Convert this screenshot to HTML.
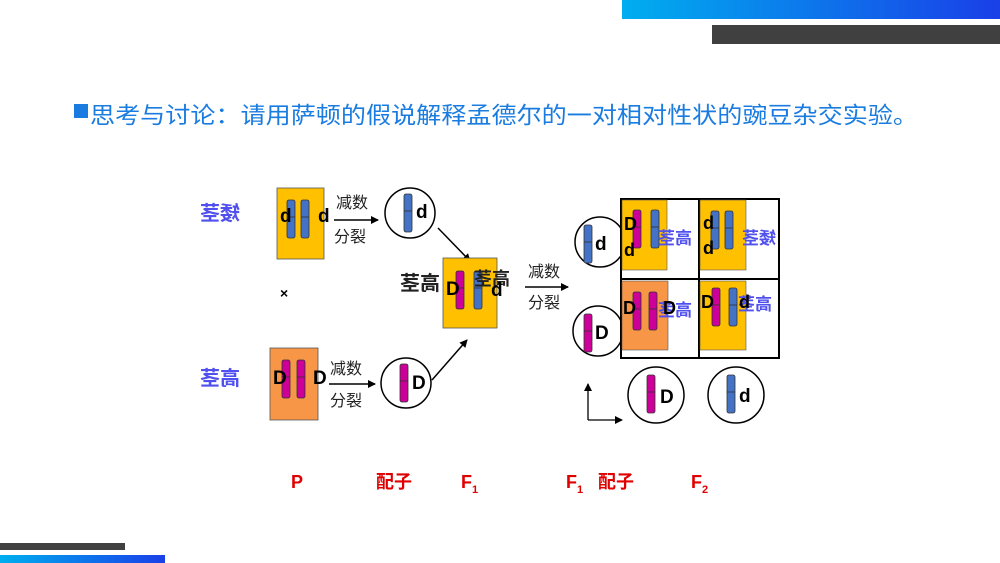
<!DOCTYPE html>
<html><head><meta charset="utf-8"><style>
html,body{margin:0;padding:0;background:#fff;}
svg{display:block;}
text{font-family:"Liberation Sans","Noto Sans CJK SC",sans-serif;}
</style></head><body>
<svg width="1000" height="563" viewBox="0 0 1000 563" xmlns="http://www.w3.org/2000/svg">
<defs>
<linearGradient id="g1" x1="0" x2="1"><stop offset="0" stop-color="#00aeef"/><stop offset="1" stop-color="#1a3fe8"/></linearGradient>
<marker id="ar" markerWidth="8" markerHeight="8" refX="7" refY="4" orient="auto" markerUnits="userSpaceOnUse"><path d="M0,0 L8,4 L0,8 z" fill="#000"/></marker>
<symbol id="cb" overflow="visible"><rect x="-4" y="0" width="8" height="38" rx="2" fill="#4472c4" stroke="#333" stroke-width="0.8"/><line x1="-4" x2="4" y1="17" y2="17" stroke="#333" stroke-width="0.8"/></symbol>
<symbol id="cm" overflow="visible"><rect x="-4" y="0" width="8" height="38" rx="2" fill="#cc0099" stroke="#333" stroke-width="0.8"/><line x1="-4" x2="4" y1="17" y2="17" stroke="#333" stroke-width="0.8"/></symbol>
</defs>
<rect x="622" y="0" width="378" height="19" fill="url(#g1)"/>
<rect x="712" y="25" width="288" height="19" fill="#404040"/>
<rect x="0" y="543" width="125" height="7" fill="#404040"/>
<rect x="0" y="555" width="165" height="8" fill="url(#g1)"/>

<rect x="74" y="104" width="14" height="14" fill="#1a7ce0"/>
<text x="90" y="123" font-size="23" fill="#1a7ce0" textLength="828" lengthAdjust="spacingAndGlyphs">思考与讨论：请用萨顿的假说解释孟德尔的一对相对性状的豌豆杂交实验。</text>

<!-- mirrored blue labels -->
<g fill="#5050ee" font-size="20" font-weight="bold">
<text transform="translate(240,220) scale(-1,1)">矮茎</text>
<text transform="translate(240,385) scale(-1,1)">高茎</text>
</g>
<text transform="translate(440,290) scale(-1,1)" font-size="20" font-weight="bold" fill="#222">高茎</text>

<!-- top parent -->
<rect x="277" y="188" width="47" height="71" fill="#ffc000" stroke="#555" stroke-width="0.8"/>
<use href="#cb" x="291" y="200"/><use href="#cb" x="305" y="200"/>
<text x="280" y="222" font-size="19" font-weight="bold">d</text>
<text x="318" y="222" font-size="19" font-weight="bold">d</text>
<line x1="334" y1="220" x2="378" y2="220" stroke="#000" stroke-width="1.5" marker-end="url(#ar)"/>
<text x="336" y="208" font-size="16" fill="#222">减数</text>
<text x="334" y="242" font-size="16" fill="#222">分裂</text>
<circle cx="410" cy="213" r="25" fill="#fff" stroke="#000" stroke-width="1.5"/>
<use href="#cb" x="408" y="194"/>
<text x="416" y="218" font-size="19" font-weight="bold">d</text>
<line x1="438" y1="228" x2="470" y2="261" stroke="#000" stroke-width="1.5" marker-end="url(#ar)"/>

<text x="280" y="298" font-size="14" font-weight="bold">×</text>

<!-- bottom parent -->
<rect x="270" y="348" width="48" height="72" fill="#f79646" stroke="#555" stroke-width="0.8"/>
<use href="#cm" x="286" y="360"/><use href="#cm" x="301" y="360"/>
<text x="273" y="384" font-size="19" font-weight="bold">D</text>
<text x="313" y="384" font-size="19" font-weight="bold">D</text>
<line x1="329" y1="384" x2="375" y2="384" stroke="#000" stroke-width="1.5" marker-end="url(#ar)"/>
<text x="330" y="374" font-size="16" fill="#222">减数</text>
<text x="330" y="406" font-size="16" fill="#222">分裂</text>
<circle cx="406" cy="383" r="25" fill="#fff" stroke="#000" stroke-width="1.5"/>
<use href="#cm" x="404" y="364"/>
<text x="412" y="389" font-size="19" font-weight="bold">D</text>
<line x1="432" y1="380" x2="467" y2="340" stroke="#000" stroke-width="1.5" marker-end="url(#ar)"/>

<!-- F1 -->
<rect x="443" y="258" width="54" height="70" fill="#ffc000" stroke="#555" stroke-width="0.8"/>
<use href="#cm" x="460" y="271"/><use href="#cb" x="478" y="271"/>
<text x="446" y="295" font-size="19" font-weight="bold">D</text>
<text transform="translate(510,285) scale(-1,1)" font-size="18" font-weight="bold" fill="#222">高茎</text>
<text x="491" y="296" font-size="19" font-weight="bold">d</text>
<line x1="525" y1="287" x2="568" y2="287" stroke="#000" stroke-width="1.5" marker-end="url(#ar)"/>
<text x="528" y="277" font-size="16" fill="#222">减数</text>
<text x="528" y="308" font-size="16" fill="#222">分裂</text>

<circle cx="600" cy="242" r="25" fill="#fff" stroke="#000" stroke-width="1.5"/>
<use href="#cb" x="588" y="225"/>
<text x="595" y="250" font-size="19" font-weight="bold">d</text>
<circle cx="598" cy="331" r="25" fill="#fff" stroke="#000" stroke-width="1.5"/>
<use href="#cm" x="588" y="314"/>
<text x="595" y="339" font-size="19" font-weight="bold">D</text>

<!-- grid -->
<rect x="621" y="199" width="158" height="159" fill="#fff" stroke="#000" stroke-width="2"/>
<line x1="699" y1="199" x2="699" y2="358" stroke="#000" stroke-width="2"/>
<line x1="621" y1="279" x2="779" y2="279" stroke="#000" stroke-width="2"/>
<rect x="622" y="200" width="45" height="70" fill="#ffc000" stroke="#555" stroke-width="0.6"/>
<rect x="700" y="200" width="46" height="70" fill="#ffc000" stroke="#555" stroke-width="0.6"/>
<rect x="622" y="281" width="46" height="69" fill="#f79646" stroke="#555" stroke-width="0.6"/>
<rect x="700" y="281" width="46" height="69" fill="#ffc000" stroke="#555" stroke-width="0.6"/>
<use href="#cm" x="637" y="210"/><use href="#cb" x="655" y="210"/>
<use href="#cb" x="715" y="211"/><use href="#cb" x="729" y="211"/>
<use href="#cm" x="637" y="292"/><use href="#cm" x="653" y="292"/>
<use href="#cm" x="716" y="288"/><use href="#cb" x="733" y="288"/>
<g fill="#5050ee" font-size="17" font-weight="bold">
<text transform="translate(692,244) scale(-1,1)">高茎</text>
<text transform="translate(776,244) scale(-1,1)">矮茎</text>
<text transform="translate(692,316) scale(-1,1)">高茎</text>
<text transform="translate(772,310) scale(-1,1)">高茎</text>
</g>
<g font-size="18" font-weight="bold">
<text x="624" y="230">D</text><text x="624" y="256">d</text>
<text x="703" y="229">d</text><text x="703" y="254">d</text>
<text x="623" y="314">D</text><text x="663" y="314">D</text>
<text x="701" y="308">D</text><text x="739" y="308">d</text>
</g>

<circle cx="656" cy="395" r="28" fill="#fff" stroke="#000" stroke-width="1.5"/>
<use href="#cm" x="651" y="375"/>
<text x="660" y="403" font-size="19" font-weight="bold">D</text>
<circle cx="736" cy="395" r="28" fill="#fff" stroke="#000" stroke-width="1.5"/>
<use href="#cb" x="731" y="375"/>
<text x="739" y="402" font-size="19" font-weight="bold">d</text>

<line x1="588" y1="420" x2="588" y2="384" stroke="#000" stroke-width="1.3" marker-end="url(#ar)"/>
<line x1="588" y1="420" x2="622" y2="420" stroke="#000" stroke-width="1.3" marker-end="url(#ar)"/>

<g fill="#e00000" font-weight="bold" font-size="18">
<text x="291" y="488">P</text>
<text x="376" y="488">配子</text>
<text x="461" y="488">F<tspan font-size="11" dy="5">1</tspan></text>
<text x="566" y="488">F<tspan font-size="11" dy="5">1</tspan></text>
<text x="598" y="488">配子</text>
<text x="691" y="488">F<tspan font-size="11" dy="5">2</tspan></text>
</g>
</svg>
</body></html>
